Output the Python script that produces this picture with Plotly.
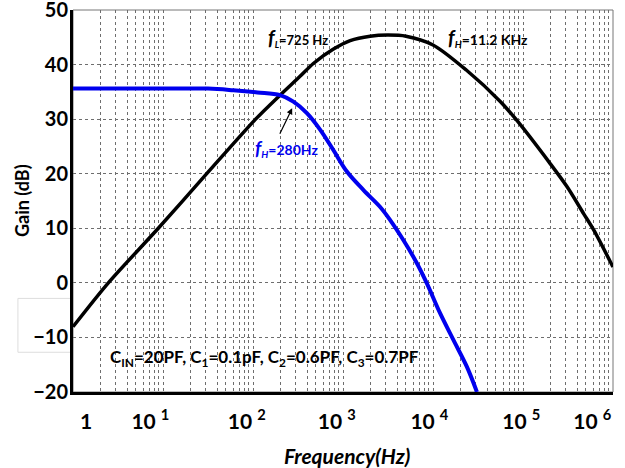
import plotly.graph_objects as go

# ---------------- data ----------------
# black curve: gain vs frequency (Hz)
black_freq = [1, 2.47, 8.87, 30.6, 107, 200, 331, 468, 776, 1202, 2000, 3162, 5012,
              10000, 23440, 56230, 85110, 199500, 309000, 471000, 610000, 1000000]
black_gain = [-8.05, 0.0, 10.0, 20.0, 30.0, 34.4, 37.8, 40.2, 42.8, 44.4, 45.2, 45.4, 45.2,
              43.6, 39.0, 33.2, 29.8, 21.9, 17.6, 12.7, 9.7, 2.9]

# blue curve
blue_freq = [1, 10, 31.6, 60.3, 112, 200, 281, 397, 561, 784, 1104, 1690, 2588,
             3342, 4699, 6622, 8551, 12020, 16900, 23830, 30760]
blue_gain = [35.6, 35.6, 35.6, 35.3, 34.9, 34.4, 33.2, 31.1, 28.0, 24.3, 20.4, 17.0, 13.9,
             11.5, 7.8, 3.6, -0.1, -5.6, -10.5, -15.4, -20.0]

# tick labels
x_ticklabels = ['1', '10 <sup>1</sup>', '10 <sup>2</sup>', '10 <sup>3</sup>',
                '10 <sup>4</sup>', '10 <sup>5</sup>', '10 <sup>6</sup>']
x_label_pos = [10 ** 0.145, 10 ** 0.86, 10 ** 1.93, 10 ** 2.93, 10 ** 3.96, 10 ** 4.98, 10 ** 5.77]
y_ticks = [-20, -10, 0, 10, 20, 30, 40, 50]

FONT = "Lato"
GRID = '#6e6e6e'

# grid positions on log axis: 1..9 x 10^n
grid_x = [m * 10 ** d for d in range(0, 6) for m in range(1, 10)] + [10 ** 6]

fig = go.Figure()
fig.add_trace(go.Scatter(x=black_freq, y=black_gain, mode='lines',
                         line=dict(color='black', width=3.5, shape='spline', smoothing=0.8),
                         showlegend=False, hoverinfo='skip'))
fig.add_trace(go.Scatter(x=blue_freq, y=blue_gain, mode='lines',
                         line=dict(color='#0000ee', width=4, shape='spline', smoothing=1.0),
                         showlegend=False, hoverinfo='skip'))

fig.update_layout(
    width=625, height=468,
    margin=dict(l=73, r=12, t=10, b=76),
    paper_bgcolor='white', plot_bgcolor='white',
    font=dict(family=FONT, color='black'),
    showlegend=False,
)

fig.update_xaxes(
    type='log', range=[0, 6], automargin=False,
    tickmode='array', tickvals=x_label_pos, ticktext=x_ticklabels,
    tickfont=dict(family=FONT, size=21, weight='bold', color='black'),
    ticks='', showgrid=False, zeroline=False,
    showline=True, linecolor='black', linewidth=3,
    ticklabelstandoff=9, ticklabeloverflow='allow',
    minor=dict(tickmode='array', tickvals=grid_x, showgrid=True, griddash='dot',
               gridcolor=GRID, gridwidth=1, ticks=''),
)

fig.update_yaxes(
    range=[-20, 50], tickmode='array', tickvals=y_ticks, automargin=False,
    tickfont=dict(family=FONT, size=20, weight='bold', color='black'),
    ticks='', showgrid=True, griddash='dot', gridcolor=GRID, gridwidth=1,
    zeroline=False, showline=True, linecolor='black', linewidth=3,
    ticklabelstandoff=-2, ticklabeloverflow='allow',
)

# axis titles
fig.add_annotation(x=-0.0944, y=0.5, xref='paper', yref='paper', showarrow=False,
                   text='<b>Gain (dB)</b>', textangle=-90, xanchor='center', yanchor='middle',
                   font=dict(family=FONT, size=18, color='black'))
fig.add_annotation(x=0.507, y=-0.165, xref='paper', yref='paper', showarrow=False,
                   text='<b><i>Frequency(Hz)</i></b>', xanchor='center', yanchor='middle',
                   font=dict(family=FONT, size=21, color='black'))

# thin gray frame on top/right, white box behind -10 label
fig.add_shape(type='rect', xref='paper', yref='paper', x0=0, x1=1, y0=0, y1=1,
              line=dict(color='#777777', width=1), layer='below')
fig.add_shape(type='rect', xref='paper', yref='paper', x0=-0.102, x1=-0.002, y0=0.104, y1=0.245,
              line=dict(color='#dddddd', width=1), fillcolor='white', layer='below')

fig.add_annotation(x=2.496, y=44.9, xref='x', yref='y', showarrow=False,
                   text='<b><i><span style="font-size:20px">f</span><sub>L</sub></i>=725 Hz</b>',
                   font=dict(family=FONT, size=13, color='black'))
fig.add_annotation(x=4.608, y=44.9, xref='x', yref='y', showarrow=False,
                   text='<b><i><span style="font-size:20px">f</span><sub>H</sub></i>=11.2 KHz</b>',
                   font=dict(family=FONT, size=14, color='black'))
fig.add_annotation(x=2.368, y=24.7, xref='x', yref='y', showarrow=False,
                   text='<b><i><span style="font-size:19px">f</span><sub>H</sub></i>=280Hz</b>',
                   font=dict(family=FONT, size=14, color='#0000ee'))
fig.add_annotation(x=2.435, y=32.0, xref='x', yref='y', showarrow=True, text='',
                   ax=-13, ay=27, arrowhead=2, arrowsize=1, arrowwidth=1.2, arrowcolor='black')
fig.add_annotation(x=2.129, y=-13.8, xref='x', yref='y', showarrow=False,
                   text='<b>C<sub>IN</sub>=20PF, C<sub>1</sub>=0.1pF, C<sub>2</sub>=0.6PF, C<sub>3</sub>=0.7PF</b>',
                   font=dict(family=FONT, size=17, color='black'))

# remove the default 8px page margin so the figure fills the 625x468 window exactly
fig.write_html("out.html", config={'displayModeBar': False},
               post_script="document.body.style.margin='0px';")
